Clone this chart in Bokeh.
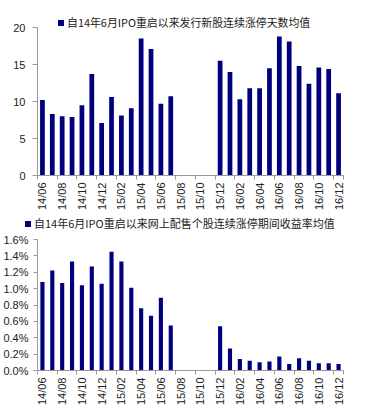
import math
from bokeh.plotting import figure
from bokeh.layouts import column
from bokeh.models import Range1d, FixedTicker, PrintfTickFormatter, Div
from bokeh.embed import file_html
from bokeh.resources import INLINE

months = ["14/06", "14/07", "14/08", "14/09", "14/10", "14/11", "14/12",
          "15/01", "15/02", "15/03", "15/04", "15/05", "15/06", "15/07",
          "15/08", "15/09", "15/10", "15/11",
          "15/12", "16/01", "16/02", "16/03", "16/04", "16/05", "16/06",
          "16/07", "16/08", "16/09", "16/10", "16/11", "16/12"]

limit_up_days = [10.2, 8.3, 8.0, 7.9, 9.5, 13.7, 7.1, 10.6, 8.1, 9.1, 18.5, 17.1, 9.7, 10.7,
                 0, 0, 0, 0,
                 15.5, 14.0, 10.3, 11.8, 11.8, 14.5, 18.8, 18.1, 14.8, 12.4, 14.6, 14.4, 11.1]

return_pct = [1.08, 1.22, 1.07, 1.33, 1.04, 1.27, 1.06, 1.45, 1.33, 1.01, 0.76, 0.67, 0.89, 0.55,
              0, 0, 0, 0,
              0.54, 0.27, 0.14, 0.12, 0.10, 0.11, 0.17, 0.08, 0.15, 0.12, 0.09, 0.09, 0.08]

legend_top = "自14年6月IPO重启以来发行新股连续涨停天数均值"
legend_bottom = "自14年6月IPO重启以来网上配售个股连续涨停期间收益率均值"

BAR = "#00007f"
AXIS = "#9a9a9a"
LATIN = "Liberation Sans"
CJK = "Noto Sans CJK SC"

xs = list(range(len(months)))
label_idx = list(range(0, len(months), 2))
overrides = {i: months[i] for i in label_idx}


def style(p, tick_out, standoff):
    p.xgrid.visible = False
    p.ygrid.visible = False
    p.outline_line_color = None
    p.background_fill_color = None
    p.border_fill_color = None
    for ax in (p.xaxis[0], p.yaxis[0]):
        ax.axis_line_color = AXIS
        ax.major_tick_line_color = AXIS
        ax.minor_tick_line_color = AXIS
        ax.major_label_text_font = LATIN
        ax.major_label_text_font_size = "11px"
        ax.major_label_text_color = "#222222"
    xa = p.xaxis[0]
    xa.ticker = FixedTicker(ticks=label_idx, minor_ticks=[i - 0.5 for i in label_idx] + [len(months) - 0.5])
    xa.major_label_overrides = overrides
    xa.major_label_orientation = math.pi / 2
    xa.major_tick_out = 0
    xa.major_tick_in = 0
    xa.minor_tick_out = 4
    xa.minor_tick_in = 0
    xa.major_label_standoff = 3
    ya = p.yaxis[0]
    ya.major_tick_out = tick_out
    ya.major_tick_in = 0
    ya.minor_tick_line_color = None
    ya.major_label_standoff = standoff


def legend_div(text, left, top, height, size, margin):
    html = (f'<div style="padding-left:{left}px;padding-top:{top}px;white-space:nowrap;'
            f'font-family:\'{CJK}\';font-size:{size};line-height:12px;color:#222222;">'
            f'<span style="display:inline-block;width:6px;height:6px;background:{BAR};'
            f'margin-right:3px;vertical-align:middle;position:relative;top:-1px;"></span>{text}</div>')
    return Div(text=html, width=351, height=height, margin=margin)


div1 = legend_div(legend_top, 58, 16, 28, "10.9px", (0, 0, -7, 0))

p1 = figure(width=351, height=192, output_backend="svg", toolbar_location=None,
            x_range=Range1d(-0.5, len(months) - 0.5), y_range=Range1d(0, 20),
            min_border_left=25, min_border_right=8, min_border_top=6, min_border_bottom=33,
            margin=0)
p1.vbar(x=xs, top=limit_up_days, width=0.48, fill_color=BAR, line_color=None)
style(p1, 5, 7)
p1.yaxis[0].ticker = FixedTicker(ticks=[0, 5, 10, 15, 20])

div2 = legend_div(legend_bottom, 25, 4, 18, "11px", 0)

p2 = figure(width=351, height=177, output_backend="svg", toolbar_location=None,
            x_range=Range1d(-0.5, len(months) - 0.5), y_range=Range1d(0, 1.6),
            min_border_left=36, min_border_right=5, min_border_top=8, min_border_bottom=36,
            margin=0)
p2.vbar(x=xs, top=return_pct, width=0.42, fill_color=BAR, line_color=None)
style(p2, 4, 5)
p2.yaxis[0].ticker = FixedTicker(ticks=[0, 0.2, 0.4, 0.6, 0.8, 1.0, 1.2, 1.4, 1.6])
p2.yaxis[0].formatter = PrintfTickFormatter(format="%.1f%%")

layout = column(div1, p1, div2, p2, spacing=0)
open("out.html", "w").write(file_html(layout, INLINE))
